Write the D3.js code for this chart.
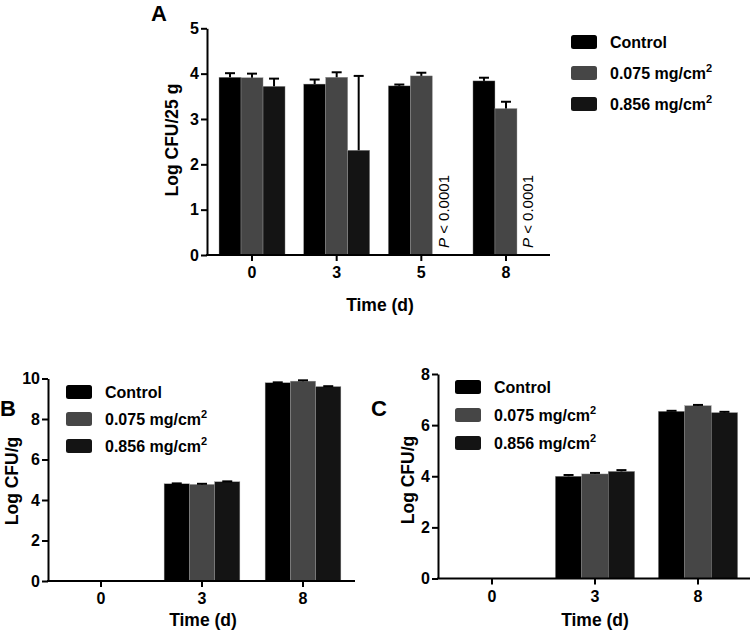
<!DOCTYPE html>
<html><head><meta charset="utf-8">
<script src="https://cdn.jsdelivr.net/npm/d3@7"></script>
<style>
body{margin:0;background:#fff;}
text{font-family:Arial,"Liberation Sans",Helvetica,sans-serif;}
</style></head>
<body>
<svg id="chart" width="750" height="630"></svg>
<script>
// ---------- DATA ----------
const seriesNames = ["Control", "0.075 mg/cm", "0.856 mg/cm"];
const seriesSup = ["", "2", "2"];
const seriesColors = ["#000000", "#464646", "#141414"];

// Panel A
const catsA = ["0", "3", "5", "8"];
const controlA = [3.92, 3.77, 3.73, 3.84];
const controlErrA = [0.09, 0.10, 0.03, 0.07];
const lowA = [3.91, 3.92, 3.95, 3.23];
const lowErrA = [0.09, 0.11, 0.07, 0.15];
const highA = [3.72, 2.31, null, null];
const highErrA = [0.17, 1.64, null, null];
const pLabelsA = ["", "", "P < 0.0001", "P < 0.0001"];
const yTicksA = [0, 1, 2, 3, 4, 5];

// Panel B
const catsB = ["0", "3", "8"];
const controlB = [0, 4.80, 9.79];
const controlErrB = [0, 0.02, 0.02];
const lowB = [0, 4.77, 9.87];
const lowErrB = [0, 0.03, 0.04];
const highB = [0, 4.90, 9.60];
const highErrB = [0, 0.02, 0.02];
const yTicksB = [0, 2, 4, 6, 8, 10];

// Panel C
const catsC = ["0", "3", "8"];
const controlC = [0, 4.00, 6.54];
const controlErrC = [0, 0.05, 0.02];
const lowC = [0, 4.09, 6.76];
const lowErrC = [0, 0.04, 0.03];
const highC = [0, 4.19, 6.49];
const highErrC = [0, 0.05, 0.03];
const yTicksC = [0, 2, 4, 6, 8];

// ---------- DRAW ----------
const svg = d3.select("#chart");
const FONT = "Arial, 'Liberation Sans', sans-serif";

function drawPanel(cfg) {
  const g = svg.append("g");
  const x = d3.scaleBand().domain(cfg.cats).range(cfg.xRange)
    .paddingInner(cfg.pad).paddingOuter(cfg.pad / 2);
  const xs = d3.scaleBand().domain(d3.range(3)).range([0, x.bandwidth()]);
  const y = d3.scaleLinear().domain([0, cfg.yMax]).range(cfg.yRange);

  const series = cfg.values.map((vals, si) => ({
    si, vals, errs: cfg.errs[si]
  }));

  // bars
  series.forEach(s => {
    const data = cfg.cats.map((c, i) => ({c, v: s.vals[i], e: s.errs[i]}))
      .filter(d => d.v != null && d.v > 0);
    g.selectAll(null).data(data).enter().append("rect")
      .attr("x", d => x(d.c) + xs(s.si))
      .attr("y", d => y(d.v))
      .attr("width", xs.bandwidth())
      .attr("height", d => y(0) - y(d.v))
      .attr("fill", seriesColors[s.si])
      .attr("stroke", "#9a9a9a").attr("stroke-width", 0.4);
    // error bars (upward)
    const eb = data.filter(d => d.e > 0);
    const cx = d => x(d.c) + xs(s.si) + xs.bandwidth() / 2;
    g.selectAll(null).data(eb).enter().append("line")
      .attr("x1", cx).attr("x2", cx)
      .attr("y1", d => y(d.v)).attr("y2", d => y(d.v + d.e))
      .attr("stroke", "#000").attr("stroke-width", 2);
    g.selectAll(null).data(eb).enter().append("line")
      .attr("x1", d => cx(d) - 5).attr("x2", d => cx(d) + 5)
      .attr("y1", d => y(d.v + d.e)).attr("y2", d => y(d.v + d.e))
      .attr("stroke", "#000").attr("stroke-width", 2);
  });

  // p labels
  if (cfg.pLabels) {
    cfg.cats.forEach((c, i) => {
      const lab = cfg.pLabels[i];
      if (!lab) return;
      const cx = x(c) + xs(2) + xs.bandwidth() / 2 + 5.5;
      const t = g.append("text")
        .attr("transform", `translate(${cx},${y(0) - 7}) rotate(-90)`)
        .attr("font-size", 15).attr("fill", "#000");
      t.append("tspan").attr("font-style", "italic").text(lab.slice(0, 1));
      t.append("tspan").text(lab.slice(1));
    });
  }

  // y axis
  const ya = g.append("g").attr("transform", `translate(${cfg.yAxisX},0)`)
    .call(d3.axisLeft(y).tickValues(cfg.yTicks).tickFormat(d3.format("d"))
      .tickSize(6).tickSizeOuter(0).tickPadding(2));
  ya.select(".domain").attr("stroke-width", 2);
  ya.selectAll(".tick line").attr("stroke-width", 2);
  ya.selectAll(".tick text").attr("font-size", 16).attr("font-weight", "bold")
    .attr("fill", "#000").style("font-family", FONT);

  // x axis
  const xa = g.append("g").attr("transform", `translate(0,${y(0)})`)
    .call(d3.axisBottom(x).tickSize(6).tickSizeOuter(0).tickPadding(6));
  xa.select(".domain").remove();
  xa.selectAll(".tick line").attr("stroke-width", 2);
  xa.selectAll(".tick text").attr("font-size", 16).attr("font-weight", "bold")
    .attr("fill", "#000").style("font-family", FONT);
  g.append("line").attr("x1", cfg.yAxisX - 1).attr("x2", cfg.xAxisEnd)
    .attr("y1", y(0)).attr("y2", y(0)).attr("stroke", "#000").attr("stroke-width", 2);

  // axis labels
  g.append("text").attr("x", cfg.xLabelPos[0]).attr("y", cfg.xLabelPos[1])
    .attr("text-anchor", "middle").attr("font-size", 17.5).attr("font-weight", "bold")
    .text("Time (d)");
  g.append("text")
    .attr("transform", `translate(${cfg.yLabelPos[0]},${cfg.yLabelPos[1]}) rotate(-90)`)
    .attr("text-anchor", "middle").attr("font-size", 17.5).attr("font-weight", "bold")
    .text(cfg.yLabel);

  // panel letter
  g.append("text").attr("x", cfg.letterPos[0]).attr("y", cfg.letterPos[1])
    .attr("font-size", 22).attr("font-weight", "bold").text(cfg.letter);

  // legend
  const lg = g.append("g");
  seriesNames.forEach((nm, i) => {
    const yy = cfg.legend.y0 + i * cfg.legend.dy;
    lg.append("rect").attr("x", cfg.legend.x).attr("y", yy - 7)
      .attr("width", 26).attr("height", 14).attr("rx", 2.5)
      .attr("fill", seriesColors[i]);
    const t = lg.append("text").attr("x", cfg.legend.x + 39).attr("y", yy + 6)
      .attr("font-size", 16).attr("font-weight", "bold").text(nm);
    if (seriesSup[i]) {
      t.append("tspan").attr("dy", -7).attr("font-size", 11).text(seriesSup[i]);
    }
  });
}

drawPanel({
  cats: catsA, values: [controlA, lowA, highA], errs: [controlErrA, lowErrA, highErrA],
  pLabels: pLabelsA, yTicks: yTicksA, yMax: 5,
  xRange: [209.7, 548.3], pad: 0.22, yRange: [255, 28.3],
  yAxisX: 207, xAxisEnd: 550,
  xLabelPos: [380, 311], yLabelPos: [178, 140], yLabel: "Log CFU/25 g",
  letterPos: [151, 21], letter: "A",
  legend: {x: 571, y0: 42, dy: 31}
});

drawPanel({
  cats: catsB, values: [controlB, lowB, highB], errs: [controlErrB, lowErrB, highErrB],
  yTicks: yTicksB, yMax: 10,
  xRange: [50.5, 353.5], pad: 0.25, yRange: [581, 378.5],
  yAxisX: 48, xAxisEnd: 355,
  xLabelPos: [203, 626], yLabelPos: [18, 481], yLabel: "Log CFU/g",
  letterPos: [0, 416], letter: "B",
  legend: {x: 66, y0: 392, dy: 27}
});

drawPanel({
  cats: catsC, values: [controlC, lowC, highC], errs: [controlErrC, lowErrC, highErrC],
  yTicks: yTicksC, yMax: 8,
  xRange: [440.5, 749.5], pad: 0.23, yRange: [578.5, 374],
  yAxisX: 438, xAxisEnd: 750,
  xLabelPos: [595, 626], yLabelPos: [414, 480], yLabel: "Log CFU/g",
  letterPos: [371, 416], letter: "C",
  legend: {x: 455, y0: 387, dy: 28}
});
</script>
</body></html>
